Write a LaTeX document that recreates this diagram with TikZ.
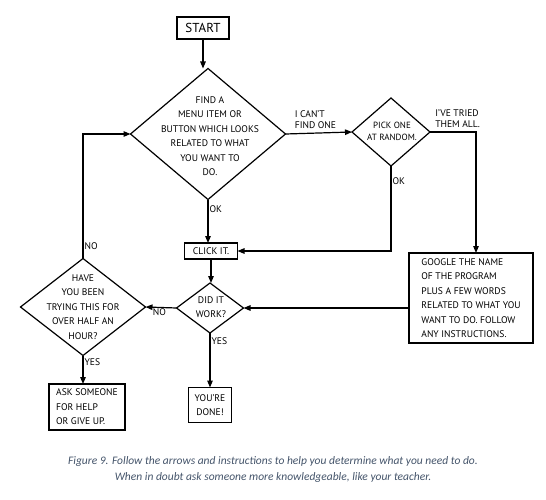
\documentclass[tikz,border=0pt]{standalone}
\usepackage{fontspec}
\setmainfont{PT Sans}
\newfontfamily\capfont{Carlito}
\usetikzlibrary{arrows.meta,shapes.geometric}
\definecolor{capcol}{HTML}{44546A}
\tikzset{
  ln/.style={line width=1.2pt, black},
  arr/.style={ln, -{Triangle[length=7pt,width=5.5pt]}},
  dia/.style={diamond, draw, ln, inner sep=0pt, outer sep=0pt},
  box/.style={rectangle, draw, ln, inner sep=0pt, outer sep=0pt},
  txt/.style={font=\fontsize{9.6}{14.5}\selectfont, align=center, inner sep=0pt},
  ltxt/.style={font=\fontsize{9.6}{14.5}\selectfont, align=left, inner sep=0pt},
  lab/.style={font=\fontsize{9.6}{12}\selectfont, inner sep=1pt}
}
\begin{document}
\begin{tikzpicture}[x=1pt,y=-1pt]
\useasboundingbox (0,0) rectangle (546,500);
% nodes
\node[box, minimum width=52pt, minimum height=22pt] (start) at (203,28) {};
\node[font=\fontsize{13}{14}\selectfont, inner sep=0pt] (startt) at (start) {START};
\node[dia, minimum width=155pt, minimum height=131pt] (d1) at (208,134) {};
\node[txt] (d1t) at (210,136) {FIND A\\MENU ITEM OR\\BUTTON WHICH LOOKS\\RELATED TO WHAT\\YOU WANT TO\\DO.};
\node[dia, minimum width=78pt, minimum height=68pt] (d2) at (391,132) {};
\node[txt, font=\fontsize{9}{12}\selectfont] (d2t) at (392,131) {PICK ONE\\AT RANDOM.};
\node[box, minimum width=53pt, minimum height=16pt] (click) at (211,251) {};
\node[txt] (clickt) at (click) {CLICK IT.};
\node[box, minimum width=124pt, minimum height=90pt] (google) at (471,298) {};
\node[ltxt] (googlet) at (471,298) {GOOGLE THE NAME\\OF THE PROGRAM\\PLUS A FEW WORDS\\RELATED TO WHAT YOU\\WANT TO DO. FOLLOW\\ANY INSTRUCTIONS.};
\node[dia, minimum width=67pt, minimum height=50pt] (d3) at (210,308) {};
\node[txt] (d3t) at (211,307) {DID IT\\WORK?};
\node[dia, minimum width=125pt, minimum height=97pt] (d4) at (83,307) {};
\node[txt] (d4t) at (83,307) {HAVE\\YOU BEEN\\TRYING THIS FOR\\OVER HALF AN\\HOUR?};
\node[box, minimum width=76pt, minimum height=46pt] (ask) at (87,407) {};
\node[ltxt] (askt) at (87,407) {ASK SOMEONE\\FOR HELP\\OR GIVE UP.};
\node[box, minimum width=43pt, minimum height=35pt] (done) at (210,405) {};
\node[txt] (donet) at (done) {YOU'RE\\DONE!};
% connectors
\draw[arr] (start.south) -- (start.south |- d1.north);
\draw[arr] (d1.south) -- node[lab, anchor=north west, pos=0.1] (okA) {OK} (d1.south |- click.north);
\draw[arr] (d1.east) -- node[lab, anchor=south, align=left, font=\fontsize{9.6}{11}\selectfont, pos=0.45, yshift=3pt] (cant) {I CAN'T\\FIND ONE} (d2.west);
\coordinate (gtop) at ([xshift=5pt]google.north);
\draw[arr] (d2.east) -| node[lab, anchor=south, align=left, pos=0.3, yshift=3pt, font=\fontsize{9.6}{11}\selectfont] (tried) {I'VE TRIED\\THEM ALL.} (gtop);
\draw[arr] (d2.south) |- node[lab, anchor=north west, pos=0.06] (okB) {OK} (click.east);
\draw[arr] (click.south) -- (click.south |- d3.north);
\draw[arr] (google.west |- d3.east) -- (d3.east);
\draw[arr] (d3.west) -- node[lab, anchor=north, pos=0.55] (noA) {NO} (d4.east);
\draw[arr] (d3.south) -- node[lab, anchor=north west, pos=0.05] (yesA) {YES} (d3.south |- done.north);
\draw[arr] (d4.south) -- node[lab, anchor=north west, pos=0.05] (yesB) {YES} (d4.south |- ask.north);
\draw[arr] (d4.north) |- node[lab, anchor=south west, pos=0.03] (noB) {NO} (d1.west);
% caption
\node[font=\capfont\itshape\fontsize{11.5}{16}\selectfont, text=capcol, align=center, inner sep=0pt] (cap) at (273,469) {Figure 9. Follow the arrows and instructions to help you determine what you need to do.\\When in doubt ask someone more knowledgeable, like your teacher.};
\end{tikzpicture}
\end{document}
